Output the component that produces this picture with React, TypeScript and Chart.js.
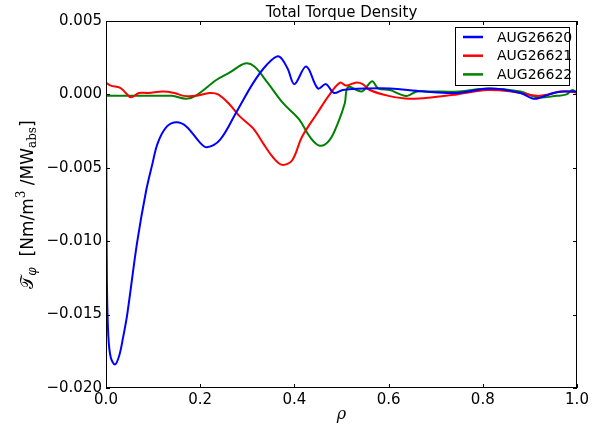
import React, { useEffect, useRef } from "react";
import { Chart, registerables } from "chart.js";

Chart.register(...registerables);

const TITLE = "Total Torque Density";
const SERIES_LABELS = ["AUG26620", "AUG26621", "AUG26622"];
const SERIES_COLORS = ["#0000ff", "#ff0000", "#008000"];

const X_TICKS = [0, 0.2, 0.4, 0.6, 0.8, 1.0];
const Y_TICKS = [-0.02, -0.015, -0.01, -0.005, 0, 0.005];

const rho620 = [0, 0.001, 0.002, 0.005, 0.01, 0.019, 0.028, 0.036, 0.045, 0.066, 0.085, 0.098, 0.11, 0.129, 0.15, 0.171, 0.2, 0.214, 0.242, 0.277, 0.313, 0.341, 0.366, 0.385, 0.4, 0.425, 0.45, 0.467, 0.484, 0.503, 0.554, 0.603, 0.673, 0.745, 0.815, 0.88, 0.91, 0.95, 0.98, 1.0];
const val620 = [0.0, -0.007, -0.013, -0.0165, -0.0179, -0.0184, -0.0178, -0.0166, -0.015, -0.0101, -0.0066, -0.0048, -0.0033, -0.0022, -0.0019, -0.0022, -0.0033, -0.0036, -0.0031, -0.0012, 0.0008, 0.002, 0.0026, 0.0018, 0.0007, 0.0019, 0.0004, 0.0007, 0.0001, 0.0003, 0.0004, 0.0004, 0.0002, 0.0001, 0.0004, 0.0001, -0.0003, 0.0001, 0.0002, 0.0002];

const rho621 = [0, 0.01, 0.03, 0.042, 0.053, 0.07, 0.09, 0.12, 0.145, 0.165, 0.19, 0.22, 0.238, 0.263, 0.284, 0.312, 0.333, 0.355, 0.374, 0.395, 0.416, 0.448, 0.475, 0.497, 0.51, 0.53, 0.545, 0.56, 0.6, 0.645, 0.694, 0.745, 0.81, 0.86, 0.915, 0.94, 0.964, 0.985, 1.0];
const val621 = [0.0008, 0.0006, 0.00045, 0.0001, -0.0002, 0.0001, 0.0001, 0.0002, 0.0001, -0.0001, -0.0001, 0.0001, 0.0, -0.0007, -0.0015, -0.0023, -0.0033, -0.0043, -0.0048, -0.0045, -0.0029, -0.0013, 0.0, 0.0008, 0.0006, 0.0008, 0.0007, 0.0003, -0.0001, -0.0003, -0.0002, 0.0, 0.0003, 0.0002, -0.0001, 0.0, 0.0002, 0.0002, 0.0001];

const rho622 = [0, 0.05, 0.1, 0.14, 0.17, 0.19, 0.235, 0.263, 0.295, 0.315, 0.343, 0.376, 0.41, 0.433, 0.454, 0.475, 0.493, 0.507, 0.514, 0.543, 0.565, 0.578, 0.603, 0.625, 0.64, 0.66, 0.688, 0.75, 0.81, 0.88, 0.915, 0.957, 0.978, 0.99, 1.0];
const val622 = [-0.0001, -0.0001, -0.0001, -0.0001, -0.0003, -0.0001, 0.001, 0.0015, 0.0021, 0.0019, 0.0008, -0.0006, -0.0017, -0.0029, -0.0035, -0.0031, -0.0019, -0.0006, 0.0005, 0.0002, 0.0009, 0.0004, 0.0003, 0.0, -0.0001, 0.0002, 0.0002, 0.0002, 0.0004, 0.0002, -0.0002, -0.0001, 0.0, 0.0003, 0.0001];

const RHOS = [rho620, rho621, rho622];
const VALS = [val620, val621, val622];

const FONT = "'DejaVu Sans', sans-serif";

function fmtY(v: number): string {
  const s = Math.abs(v) < 1e-12 ? "0.000" : v.toFixed(3);
  return s.replace("-", "\u2212");
}

const decorPlugin = {
  id: "decor",
  afterDraw(chart: any) {
    const ctx = chart.ctx;
    const a = chart.chartArea;
    const xs = chart.scales.x;
    const ys = chart.scales.y;
    ctx.save();
    // frame
    ctx.strokeStyle = "#000";
    ctx.lineWidth = 1;
    ctx.strokeRect(Math.round(a.left) + 0.5, Math.round(a.top) + 0.5, Math.round(a.right - a.left) - 1, Math.round(a.bottom - a.top) - 1);
    // inward ticks
    const tl = 4;
    ctx.beginPath();
    X_TICKS.forEach((t) => {
      const px = Math.round(xs.getPixelForValue(t)) + 0.5;
      ctx.moveTo(px, a.bottom);
      ctx.lineTo(px, a.bottom - tl);
      ctx.moveTo(px, a.top);
      ctx.lineTo(px, a.top + tl);
    });
    Y_TICKS.forEach((t) => {
      const py = Math.round(ys.getPixelForValue(t)) + 0.5;
      ctx.moveTo(a.left, py);
      ctx.lineTo(a.left + tl, py);
      ctx.moveTo(a.right, py);
      ctx.lineTo(a.right - tl, py);
    });
    ctx.stroke();

    // title
    ctx.fillStyle = "#000";
    ctx.font = `15px ${FONT}`;
    ctx.textAlign = "center";
    ctx.textBaseline = "alphabetic";
    ctx.fillText(TITLE, (a.left + a.right) / 2, 16.5);

    // x label
    ctx.font = `italic 16px 'DejaVu Serif', serif`;
    ctx.fillText("\u03C1", (a.left + a.right) / 2, 419);

    // y label (rotated)
    ctx.save();
    ctx.translate(29, (a.top + a.bottom) / 2);
    ctx.rotate(-Math.PI / 2);
    const big = 17;
    const small = 12;
    const parts: { t: string; f: string; dy: number }[] = [
      { t: "\uD835\uDCAF", f: `${big}px 'DejaVu Serif', 'DejaVu Sans', serif`, dy: 0 },
      { t: "\u03C6", f: `italic ${small}px 'DejaVu Serif', serif`, dy: 4 },
      { t: "  [Nm/m", f: `${big}px ${FONT}`, dy: 0 },
      { t: "3", f: `${small}px 'DejaVu Serif', serif`, dy: -7 },
      { t: " /MW", f: `${big}px ${FONT}`, dy: 0 },
      { t: "abs", f: `${small}px 'DejaVu Serif', serif`, dy: 4 },
      { t: "]", f: `${big}px ${FONT}`, dy: 0 },
    ];
    let total = 0;
    parts.forEach((p) => {
      ctx.font = p.f;
      total += ctx.measureText(p.t).width;
    });
    let cx = -total / 2;
    ctx.textAlign = "left";
    ctx.textBaseline = "middle";
    parts.forEach((p) => {
      ctx.font = p.f;
      ctx.fillText(p.t, cx, p.dy);
      cx += ctx.measureText(p.t).width;
    });
    ctx.restore();

    // legend
    const lx = 455.5, ly = 27.5, lw = 114, lh = 58;
    ctx.fillStyle = "#fff";
    ctx.fillRect(lx, ly, lw, lh);
    ctx.strokeStyle = "#000";
    ctx.lineWidth = 1;
    ctx.strokeRect(lx, ly, lw, lh);
    ctx.font = `14px ${FONT}`;
    ctx.textAlign = "left";
    ctx.textBaseline = "middle";
    SERIES_LABELS.forEach((lab, i) => {
      const yy = 37 + i * 18.7;
      ctx.strokeStyle = SERIES_COLORS[i];
      ctx.lineWidth = 2.5;
      ctx.beginPath();
      ctx.moveTo(463, yy);
      ctx.lineTo(483, yy);
      ctx.stroke();
      ctx.fillStyle = "#000";
      ctx.fillText(lab, 497, yy + 1);
    });
    ctx.restore();
  },
};

export default function App() {
  const ref = useRef<HTMLCanvasElement | null>(null);
  useEffect(() => {
    if (!ref.current) return;
    const datasets = SERIES_LABELS.map((lab, i) => ({
      label: lab,
      data: RHOS[i].map((r, j) => ({ x: r, y: VALS[i][j] })),
      borderColor: SERIES_COLORS[i],
      backgroundColor: SERIES_COLORS[i],
      borderWidth: 2,
      pointRadius: 0,
      tension: 0.35,
      fill: false,
    }));
    const chart = new Chart(ref.current, {
      type: "line",
      data: { datasets },
      options: {
        responsive: false,
        animation: false,
        devicePixelRatio: 1,
        layout: { padding: { top: 21, right: 15, left: 0, bottom: 0 } },
        plugins: {
          legend: { display: false },
          title: { display: false },
          tooltip: { enabled: false },
        },
        scales: {
          x: {
            type: "linear",
            min: 0,
            max: 1,
            grid: { display: false, drawTicks: false },
            border: { display: false },
            afterFit: (s: any) => { s.height = 37; },
            afterBuildTicks: (s: any) => { s.ticks = X_TICKS.map((v) => ({ value: v })); },
            ticks: {
              padding: 3,
              color: "#000",
              font: { family: FONT, size: 15 },
              maxRotation: 0,
              autoSkip: false,
              callback: (v: any) => Number(v).toFixed(1),
            },
          },
          y: {
            type: "linear",
            min: -0.02,
            max: 0.005,
            grid: { display: false, drawTicks: false },
            border: { display: false },
            afterFit: (s: any) => { s.width = 106; },
            afterBuildTicks: (s: any) => { s.ticks = Y_TICKS.map((v) => ({ value: v })); },
            ticks: {
              padding: 4,
              color: "#000",
              font: { family: FONT, size: 15 },
              autoSkip: false,
              callback: (v: any) => fmtY(Number(v)),
            },
          },
        },
      },
      plugins: [decorPlugin],
    });
    return () => chart.destroy();
  }, []);
  return (
    <div style={{ position: "fixed", left: 0, top: 0, width: 592, height: 425, background: "#fff" }}>
      <canvas ref={ref} width={592} height={425} style={{ display: "block" }} />
    </div>
  );
}
